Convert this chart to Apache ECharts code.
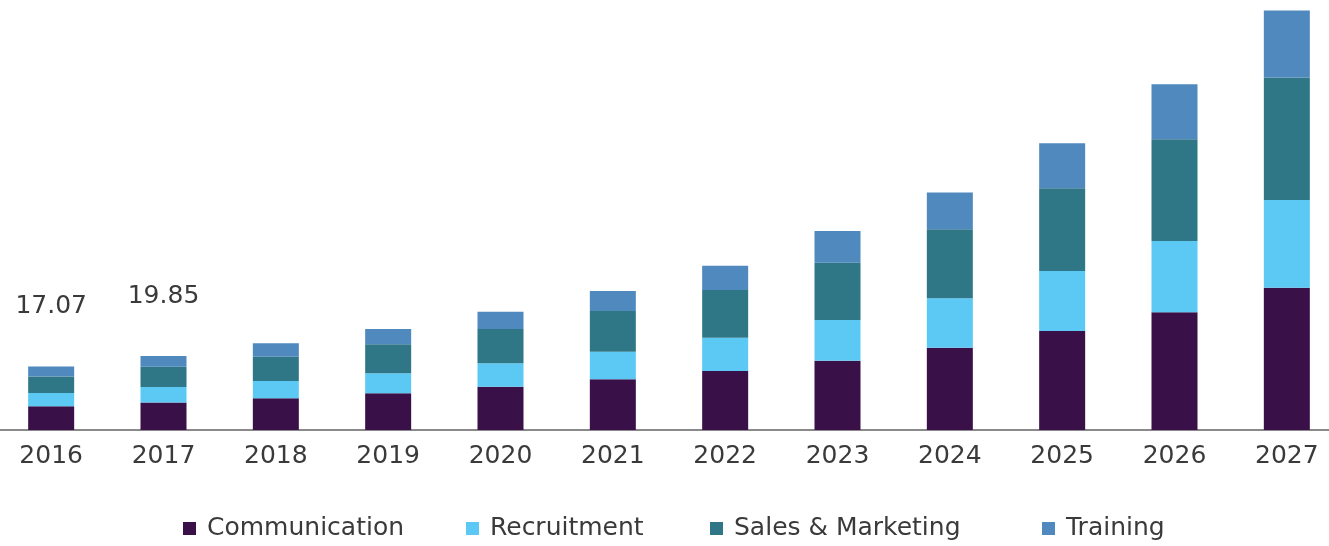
<!DOCTYPE html>
<html>
<head>
<meta charset="utf-8">
<script src="https://cdn.jsdelivr.net/npm/echarts@6/dist/echarts.min.js"></script>
<style>
    html, body { margin: 0; padding: 0; background: #fff; }
    #chart { width: 1329px; height: 546px; }
</style>
</head>
<body>
<div id="chart"></div>
<script>
// 年份
const years = ['2016', '2017', '2018', '2019', '2020', '2021', '2022', '2023', '2024', '2025', '2026', '2027']

// 各细分市场数值
const communication = [6.40, 7.39, 8.52, 9.87, 11.64, 13.63, 15.86, 18.63, 22.12, 26.61, 31.64, 38.25]
const recruitment   = [3.55, 4.17, 4.65, 5.38, 6.29, 7.42, 8.95, 10.94, 13.28, 16.13, 19.17, 23.58]
const salesMarketing = [4.45, 5.42, 6.53, 7.80, 9.22, 10.94, 12.82, 15.40, 18.55, 22.23, 27.34, 32.88]
const training      = [2.67, 2.87, 3.60, 4.11, 4.65, 5.38, 6.53, 8.52, 9.84, 12.10, 14.78, 18.01]

// 只有前两年标出总值
const totalLabels = ['17.07', '19.85']

const seriesNames = ['Communication', 'Recruitment', 'Sales & Marketing', 'Training']
const seriesColors = ['#3a1049', '#5bc9f3', '#2f7787', '#4f89bd']

const textColor = '#3a3a3a'
const fontFamily = 'DejaVu Sans, sans-serif'

// 图例各项的横向位置（原图间距不等，所以每项单独放）
const legendLefts = [178, 461, 705, 1037]

// 把总值标签挂到最上面一段
function trainingData() {
    return training.map((v, i) => {
        if (i < totalLabels.length) {
            return {
                value: v,
                label: {
                    show: true,
                    position: 'top',
                    distance: 47,
                    formatter: totalLabels[i],
                    color: textColor,
                    fontSize: 25,
                    fontFamily: fontFamily
                }
            }
        }
        return v
    })
}

function makeSeries(name, data, color) {
    return {
        name: name,
        type: 'bar',
        stack: 'total',
        barWidth: 46,
        itemStyle: { color: color },
        data: data,
        animation: false
    }
}

function makeLegend(name, left) {
    return {
        data: [name],
        left: left,
        top: 511,
        icon: 'rect',
        itemWidth: 13,
        itemHeight: 13,
        textStyle: {
            color: textColor,
            fontSize: 25,
            fontFamily: fontFamily,
            padding: [0, 0, 0, 6]
        }
    }
}

let option = {
    backgroundColor: '#fff',
    grid: {
        left: -5,
        right: -14,
        top: 2,
        bottom: 116,
        outerBoundsMode: 'none',
        containLabel: false
    },
    legend: seriesNames.map((n, i) => makeLegend(n, legendLefts[i])),
    xAxis: {
        type: 'category',
        data: years,
        axisTick: { show: false },
        axisLine: { lineStyle: { color: '#8a8a8a', width: 2 } },
        axisLabel: {
            color: textColor,
            fontSize: 25,
            fontFamily: fontFamily,
            margin: 14
        }
    },
    yAxis: {
        type: 'value',
        min: 0,
        max: 115,
        show: false,
        splitLine: { show: false }
    },
    series: [
        makeSeries(seriesNames[0], communication, seriesColors[0]),
        makeSeries(seriesNames[1], recruitment, seriesColors[1]),
        makeSeries(seriesNames[2], salesMarketing, seriesColors[2]),
        makeSeries(seriesNames[3], trainingData(), seriesColors[3])
    ]
}

let chartDom = echarts.init(document.querySelector('#chart'))
chartDom.setOption(option)
</script>
</body>
</html>
